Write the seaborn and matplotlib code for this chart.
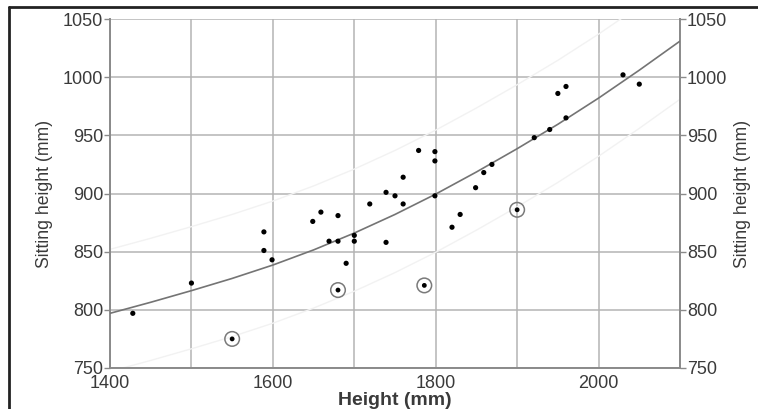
import matplotlib
matplotlib.use("Agg")
import matplotlib.pyplot as plt
from matplotlib.lines import Line2D
import numpy as np
import pandas as pd
import seaborn as sns

# ---- data ----
height = [1428, 1500, 1589, 1589, 1599, 1649, 1659, 1669, 1680, 1680, 1690,
          1700, 1700, 1719, 1739, 1750, 1739, 1760, 1760, 1779, 1799, 1799,
          1799, 1820, 1830, 1849, 1859, 1869, 1921, 1940, 1950, 1960, 1960,
          2030, 2050]
sitting = [797, 823, 867, 851, 843, 876, 884, 859, 881, 859, 840,
           864, 859, 891, 901, 898, 858, 914, 891, 937, 936, 928,
           898, 871, 882, 905, 918, 925, 948, 955, 986, 992, 965,
           1002, 994]

outlier_height = [1550, 1680, 1786, 1900]
outlier_sitting = [775, 817, 821, 886]

curve_x = [1400, 1450, 1500, 1550, 1600, 1650, 1700, 1750, 1800, 1850,
           1900, 1950, 2000, 2050, 2100]
curve_y = [797, 806.5, 816.5, 827, 838.5, 851.5, 866, 882, 899.5, 918.5,
           938.5, 959.5, 982, 1006, 1031]
band_upper = [852, 861.5, 871.5, 882, 893.5, 906.5, 921, 937, 954.5, 973.5,
              993.5, 1014.5, 1037, 1061, 1086]
band_lower = [747, 756.5, 766.5, 777, 788.5, 801.5, 816, 832, 849.5, 868.5,
              888.5, 909.5, 932, 956, 981]

x_ticks = [1400, 1600, 1800, 2000]
x_grid = [1400, 1500, 1600, 1700, 1800, 1900, 2000, 2100]
y_ticks = [750, 800, 850, 900, 950, 1000, 1050]

# ---- style ----
sns.set_theme(style="white")
plt.rcParams['font.family'] = ['Liberation Sans', 'DejaVu Sans']

W, H = 758, 409
fig = plt.figure(figsize=(W / 100, H / 100), dpi=100)
ax = fig.add_axes([110 / W, 1 - 368 / H, 570 / W, 349 / H])

grid_c = '#b4b4b4'
spine_c = '#8a8a8a'
text_c = '#3a3a3a'

df = pd.DataFrame({'Height': height, 'Sitting': sitting})
dfo = pd.DataFrame({'Height': outlier_height, 'Sitting': outlier_sitting})
dfc = pd.DataFrame({'x': curve_x, 'y': curve_y, 'up': band_upper, 'lo': band_lower})

sns.lineplot(data=dfc, x='x', y='up', ax=ax, color='#f2f2f2', lw=1.0, zorder=2)
sns.lineplot(data=dfc, x='x', y='lo', ax=ax, color='#f2f2f2', lw=1.0, zorder=2)
sns.lineplot(data=dfc, x='x', y='y', ax=ax, color='#747474', lw=1.2, zorder=3)
sns.scatterplot(data=dfo, x='Height', y='Sitting', ax=ax, s=110,
                facecolor='none', edgecolor='#7a7a7a', linewidth=1.1, zorder=4)
sns.scatterplot(data=dfo, x='Height', y='Sitting', ax=ax, s=12,
                color='black', edgecolor='none', zorder=5)
sns.scatterplot(data=df, x='Height', y='Sitting', ax=ax, s=14,
                color='black', edgecolor='none', zorder=5)

ax.set_xlim(1400, 2100)
ax.set_ylim(750, 1050)
ax.set_xticks(x_ticks)
ax.set_xticks(x_grid, minor=True)
ax.set_yticks(y_ticks)
ax.grid(True, which='both', color=grid_c, lw=1.1, zorder=0)
ax.set_axisbelow(True)

for s in ['left', 'right', 'bottom']:
    ax.spines[s].set_color(spine_c)
    ax.spines[s].set_linewidth(1.4)
ax.spines['top'].set_visible(False)

ax.tick_params(axis='both', which='both', direction='out', length=4,
               width=1.0, color=spine_c, labelcolor=text_c, labelsize=13)
ax.tick_params(axis='x', which='minor', length=4)
ax.tick_params(axis='x', pad=1)
ax.tick_params(axis='y', pad=1)

ax.set_xlabel('Height (mm)', fontsize=14, fontweight='bold', color=text_c, labelpad=0)
ax.set_ylabel('Sitting height (mm)', fontsize=12.7, color=text_c, labelpad=7)

ax2 = ax.twinx()
ax2.set_ylim(750, 1050)
ax2.set_yticks(y_ticks)
for s in ['left', 'right', 'bottom', 'top']:
    ax2.spines[s].set_visible(False)
ax2.tick_params(axis='y', direction='out', length=4, width=1.0, color=spine_c,
                labelcolor=text_c, labelsize=13, pad=1)
ax2.set_ylabel('Sitting height (mm)', fontsize=12.7, color=text_c, labelpad=5)
ax2.grid(False)

# figure frame (left and top edges visible)
fig.add_artist(Line2D([9 / W, 9 / W], [0, 1 - 7 / H], transform=fig.transFigure,
                      color='#222222', lw=2.0))
fig.add_artist(Line2D([9 / W, 1], [1 - 7 / H, 1 - 7 / H], transform=fig.transFigure,
                      color='#222222', lw=2.0))

fig.savefig('out.png', dpi=100)
